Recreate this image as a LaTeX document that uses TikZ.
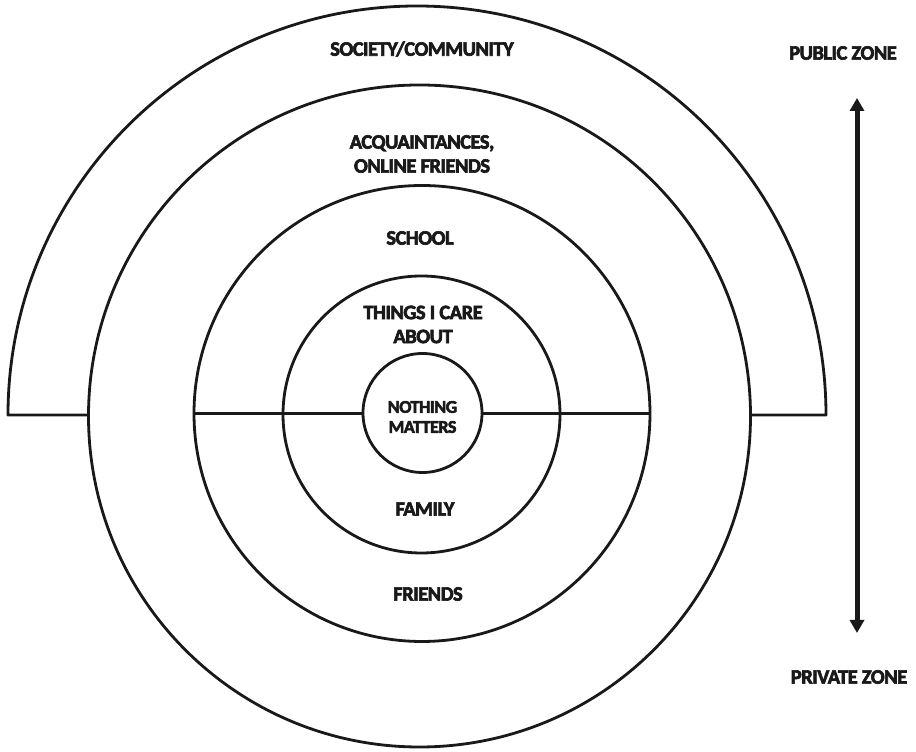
\documentclass[tikz,border=0pt]{standalone}
\usepackage{fontspec}
\setmainfont{Carlito}
\newfontfamily\heavyfont{Carlito}[FakeBold=3, LetterSpace=-2.5]
\usetikzlibrary{arrows.meta}
\begin{document}
\begin{tikzpicture}[x=1pt,y=1pt,
  ring/.style={draw=black!90, line width=2.8pt, circle, inner sep=0pt, fill=white},
  rim/.style={draw=black!90, line width=2.8pt},
  lbl/.style={font=\heavyfont\fontsize{20.5}{24}\selectfont\bfseries, align=center, inner sep=0pt, text=black!90},
  small/.style={font=\heavyfont\fontsize{18}{20}\selectfont\bfseries, align=center, inner sep=0pt, text=black!90},
  zone/.style={draw=black!90, line width=5pt, {Triangle[length=13pt,width=14pt]}-{Triangle[length=13pt,width=14pt]}}
]
\useasboundingbox (0,0) rectangle (916,752);

% outer half ring: society / community
\draw[rim, line join=round] (88.5,337) -- (8,337) arc[start angle=180, end angle=0, radius=409] -- (750.5,337);

% nested rings
\node[ring, minimum size=662pt] (acq) at (419.5,336) {};
\node[ring, minimum size=456pt] (school) at (422,338.5) {};
\node[ring, minimum size=277pt] (care) at (421.5,337.5) {};

% divider between the upper and lower halves
\draw[rim] (school.west) -- (school.east);
\node[ring, minimum size=119pt] (nothing) at (422.5,339) {};

% ring labels
\node[lbl] (tsoc) at (422,703) {SOCIETY/COMMUNITY};
\node[lbl] (tacq) at (422,598) {ACQUAINTANCES,\\ONLINE FRIENDS};
\node[lbl] (tsch) at (420,514) {SCHOOL};
\node[lbl] (tcare) at (423,427.5) {THINGS I CARE\\ABOUT};
\node[small] (tnot) at (422.5,335) {NOTHING\\MATTERS};
\node[lbl] (tfam) at (425,243) {FAMILY};
\node[lbl] (tfri) at (428,158) {FRIENDS};

% public / private scale
\node[lbl] (pub) at (843,699) {PUBLIC ZONE};
\node[lbl] (priv) at (849,75) {PRIVATE ZONE};
\coordinate (atop) at (857,654);
\coordinate (abot) at (857,119);
\draw[zone] (abot) -- (atop);
\end{tikzpicture}
\end{document}
